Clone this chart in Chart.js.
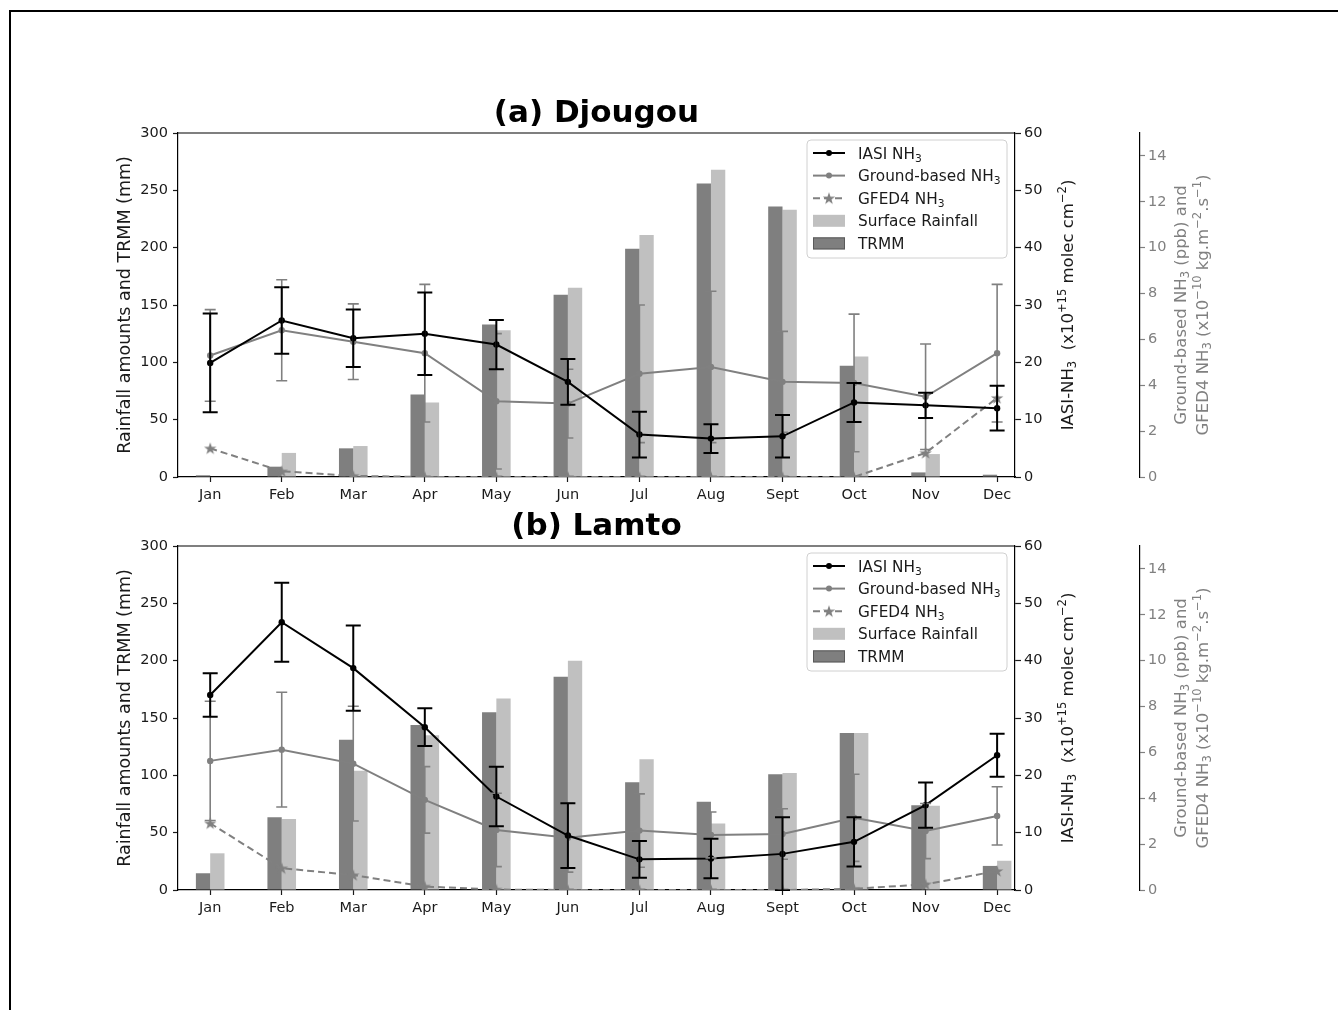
<!DOCTYPE html>
<html>
<head>
<meta charset="utf-8">
<script src="https://cdn.jsdelivr.net/npm/chart.js@4.4.0/dist/chart.umd.min.js"></script>
<style>
  body { margin: 0; background: #fff; }
  #page { position: relative; width: 1338px; height: 1010px; background: #fff; overflow: hidden; }
  #frame { position: absolute; left: 9px; top: 10px; width: 1400px; height: 1100px; border-left: 2px solid #000; border-top: 2px solid #000; }
  canvas { position: absolute; left: 0; }
</style>
</head>
<body>
<div id="page">
  <div id="frame"></div>
  <canvas id="djougou" width="1338" height="430" style="top:80px"></canvas>
  <canvas id="lamto" width="1338" height="440" style="top:493px"></canvas>
</div>
<script>
var months = ['Jan', 'Feb', 'Mar', 'Apr', 'May', 'Jun', 'Jul', 'Aug', 'Sept', 'Oct', 'Nov', 'Dec'];
var rainTicks = [0, 50, 100, 150, 200, 250, 300];
var iasiTicks = [0, 10, 20, 30, 40, 50, 60];
var nh3Ticks = [0, 2, 4, 6, 8, 10, 12, 14];

// (a) Djougou
var djTrmm = [1.5, 9, 25, 72, 133, 159, 199, 256, 236, 97, 4, 2];
var djRain = [0, 21, 27, 65, 128, 165, 211, 268, 233, 105, 20, 0];
var djIasi = [19.9, 27.3, 24.2, 25.0, 23.1, 16.6, 7.4, 6.7, 7.1, 13.0, 12.5, 12.0];
var djIasiErr = [8.6, 5.8, 5.0, 7.2, 4.3, 4.0, 4.0, 2.5, 3.7, 3.4, 2.2, 3.9];
var djGround = [5.3, 6.4, 5.9, 5.4, 3.3, 3.2, 4.5, 4.8, 4.15, 4.1, 3.5, 5.4];
var djGroundErr = [2.0, 2.2, 1.65, 3.0, 2.95, 1.5, 3.0, 3.3, 2.2, 3.0, 2.3, 3.0];
var djGfed = [1.25, 0.25, 0.05, 0, 0, 0, 0, 0, 0, 0, 1.05, 3.45];

// (b) Lamto
var lmTrmm = [14.6, 63.4, 131, 144, 155, 186, 94, 77, 101, 137, 74, 21];
var lmRain = [32, 62, 104, 135, 167, 200, 114, 58, 102, 137, 73.5, 25.5];
var lmIasi = [34.0, 46.7, 38.7, 28.4, 16.3, 9.5, 5.35, 5.5, 6.3, 8.4, 14.8, 23.5];
var lmIasiErr = [3.8, 6.9, 7.45, 3.3, 5.2, 5.65, 3.2, 3.45, 6.4, 4.3, 3.95, 3.75];
var lmGround = [5.63, 6.12, 5.51, 3.93, 2.62, 2.28, 2.59, 2.4, 2.44, 3.15, 2.57, 3.23];
var lmGroundErr = [2.6, 2.5, 2.5, 1.45, 1.6, 1.5, 1.6, 1.0, 1.1, 1.9, 1.2, 1.27];
var lmGfed = [2.91, 0.95, 0.65, 0.15, 0.02, 0, 0, 0, 0, 0.05, 0.25, 0.83];

var FONT = 'DejaVu Sans';
var GREY = '#808080';
var INK = '#1a1a1a';

function pts(vals) {
    return vals.map(function (v, i) { return {x: i, y: v}; });
}

// filled 5 point star, like matplotlib '*'
var star = document.createElement('canvas');
star.width = 14;
star.height = 14;
(function () {
    var c = star.getContext('2d');
    c.fillStyle = GREY;
    c.beginPath();
    for (var k = 0; k < 10; k++) {
        var r = k % 2 ? 2.6 : 6.5;
        var ang = -Math.PI / 2 + k * Math.PI / 5;
        c.lineTo(7 + r * Math.cos(ang), 7.5 + r * Math.sin(ang));
    }
    c.closePath();
    c.fill();
})();

// text with sub/superscripts: segs = [[text, ''|'sub'|'sup'], ...]
function richWidth(ctx, segs, size) {
    var w = 0;
    segs.forEach(function (s) {
        ctx.font = (s[1] ? size * 0.7 : size) + 'px ' + FONT;
        w += ctx.measureText(s[0]).width;
    });
    return w;
}

function drawRich(ctx, segs, x, y, size) {
    ctx.textAlign = 'left';
    ctx.textBaseline = 'alphabetic';
    segs.forEach(function (s) {
        var fs = s[1] ? size * 0.7 : size;
        var dy = s[1] === 'sub' ? size * 0.2 : (s[1] === 'sup' ? -size * 0.42 : 0);
        ctx.font = fs + 'px ' + FONT;
        ctx.fillText(s[0], x, y + dy);
        x += ctx.measureText(s[0]).width;
    });
}

function vText(ctx, segs, cx, cy, size, color) {
    ctx.save();
    ctx.translate(cx, cy);
    ctx.rotate(-Math.PI / 2);
    ctx.fillStyle = color;
    drawRich(ctx, segs, -richWidth(ctx, segs, size) / 2, size * 0.36, size);
    ctx.restore();
}

var rainTitle = [['Rainfall amounts and TRMM (mm)', '']];
var iasiTitle = [['IASI-NH', ''], ['3', 'sub'], ['  (x10', ''], ['+15', 'sup'], [' molec cm', ''], ['\u22122', 'sup'], [')', '']];
var nh3Title1 = [['Ground-based NH', ''], ['3', 'sub'], [' (ppb) and', '']];
var nh3Title2 = [['GFED4 NH', ''], ['3', 'sub'], [' (x10', ''], ['\u221210', 'sup'], [' kg.m', ''], ['\u22122', 'sup'], ['.s', ''], ['\u22121', 'sup'], [')', '']];

var legendItems = [
    {segs: [['IASI NH', ''], ['3', 'sub']], kind: 'line', color: '#000', marker: 'circle'},
    {segs: [['Ground-based NH', ''], ['3', 'sub']], kind: 'line', color: GREY, marker: 'circle'},
    {segs: [['GFED4 NH', ''], ['3', 'sub']], kind: 'line', color: GREY, marker: 'star', dash: [7, 4]},
    {segs: [['Surface Rainfall', '']], kind: 'patch', color: '#c0c0c0'},
    {segs: [['TRMM', '']], kind: 'patch', color: '#7f7f7f', edge: '#5a5a5a'}
];

var decor = {
    id: 'decor',
    afterDatasetsDraw: function (chart) {
        var o = chart.options.plugins.decor, ctx = chart.ctx, a = chart.chartArea;
        ctx.save();
        ctx.beginPath();
        ctx.rect(a.left, a.top, a.right - a.left, a.bottom - a.top + 1);
        ctx.clip();
        o.errorBars.forEach(function (eb) {
            var meta = chart.getDatasetMeta(eb.dataset);
            var scale = chart.scales[meta.yAxisID];
            var vals = chart.data.datasets[eb.dataset].data;
            ctx.strokeStyle = eb.color;
            ctx.lineWidth = eb.width;
            meta.data.forEach(function (pt, i) {
                var v = vals[i].y, e = eb.err[i];
                var top = scale.getPixelForValue(v + e), bot = scale.getPixelForValue(v - e);
                ctx.beginPath();
                ctx.moveTo(pt.x, top);
                ctx.lineTo(pt.x, bot);
                ctx.moveTo(pt.x - eb.cap, top);
                ctx.lineTo(pt.x + eb.cap, top);
                ctx.moveTo(pt.x - eb.cap, bot);
                ctx.lineTo(pt.x + eb.cap, bot);
                ctx.stroke();
            });
        });
        ctx.restore();
    },
    afterDraw: function (chart) {
        var o = chart.options.plugins.decor, ctx = chart.ctx, a = chart.chartArea;
        var mid = (a.top + a.bottom) / 2;
        ctx.save();
        // top spine
        ctx.strokeStyle = '#000';
        ctx.lineWidth = 1.2;
        ctx.beginPath();
        ctx.moveTo(a.left, a.top);
        ctx.lineTo(a.right, a.top);
        ctx.stroke();

        ctx.fillStyle = '#000';
        ctx.font = 'bold 31px ' + FONT;
        ctx.textAlign = 'center';
        ctx.textBaseline = 'alphabetic';
        ctx.fillText(o.title, (a.left + a.right) / 2, a.top - 11);

        vText(ctx, rainTitle, a.left - 54, mid, 17.5, INK);
        vText(ctx, iasiTitle, a.right + 52, mid, 16.5, INK);
        vText(ctx, nh3Title1, a.right + 165, mid, 16.5, GREY);
        vText(ctx, nh3Title2, a.right + 187, mid, 16.5, GREY);

        // legend inside the plot, upper right
        var bx = a.right - 208, by = a.top + 7, bw = 200, bh = 118;
        ctx.beginPath();
        ctx.roundRect(bx, by, bw, bh, 4);
        ctx.fillStyle = 'rgba(255,255,255,0.85)';
        ctx.fill();
        ctx.strokeStyle = '#d0d0d0';
        ctx.lineWidth = 1;
        ctx.stroke();
        legendItems.forEach(function (it, k) {
            var y = by + 13 + k * 22.6;
            var x0 = bx + 6, x1 = bx + 38, xc = (x0 + x1) / 2;
            if (it.kind === 'line') {
                ctx.strokeStyle = it.color;
                ctx.lineWidth = 2;
                ctx.setLineDash(it.dash || []);
                ctx.beginPath();
                ctx.moveTo(x0, y);
                ctx.lineTo(x1, y);
                ctx.stroke();
                ctx.setLineDash([]);
                if (it.marker === 'star') {
                    ctx.drawImage(star, xc - 7, y - 7);
                } else {
                    ctx.fillStyle = it.color;
                    ctx.beginPath();
                    ctx.arc(xc, y, 3, 0, Math.PI * 2);
                    ctx.fill();
                }
            } else {
                ctx.fillStyle = it.color;
                ctx.fillRect(x0, y - 6, x1 - x0, 12);
                if (it.edge) {
                    ctx.strokeStyle = it.edge;
                    ctx.lineWidth = 1;
                    ctx.strokeRect(x0 + 0.5, y - 5.5, x1 - x0 - 1, 11);
                }
            }
            ctx.fillStyle = INK;
            drawRich(ctx, it.segs, bx + 51, y + 15.3 * 0.36, 15.3);
        });
        ctx.restore();
    }
};

function fixedTicks(list) {
    return function (s) {
        s.ticks = list.map(function (v) { return {value: v}; });
    };
}

function axis(extra, color, tickLen, pad) {
    var base = {
        grid: {drawOnChartArea: false, drawTicks: true, tickLength: tickLen, tickColor: color, tickWidth: 1.2, offset: false},
        border: {display: true, color: '#000', width: 1.2},
        ticks: {color: color, padding: pad, autoSkip: false, maxRotation: 0, font: {family: FONT, size: 14.5}}
    };
    return Object.assign(base, extra);
}

window.grafico = function (canvasId, p) {
    var ctx = document.getElementById(canvasId);
    var xAxis = axis({
        type: 'linear', min: -0.45, max: 11.25, offset: false,
        afterBuildTicks: fixedTicks(months.map(function (m, i) { return i; })),
        afterFit: function (s) { s.height = p.xHeight; }
    }, INK, 5, 5);
    xAxis.ticks.callback = function (v) { return months[v]; };

    new Chart(ctx, {
        type: 'bar',
        data: {
            datasets: [{
                type: 'line', label: 'IASI NH3', data: pts(p.iasi), yAxisID: 'y1', order: 0,
                borderColor: '#000', borderWidth: 2, pointRadius: 3.2,
                pointBackgroundColor: '#000', pointBorderWidth: 0
            }, {
                type: 'line', label: 'Ground-based NH3', data: pts(p.ground), yAxisID: 'y2', order: 1,
                borderColor: GREY, borderWidth: 2, pointRadius: 3.2,
                pointBackgroundColor: GREY, pointBorderWidth: 0
            }, {
                type: 'line', label: 'GFED4 NH3', data: pts(p.gfed), yAxisID: 'y2', order: 2,
                borderColor: GREY, borderWidth: 2, borderDash: [7, 4], pointStyle: star
            }, {
                type: 'bar', label: 'TRMM', data: pts(p.trmm), yAxisID: 'y', order: 3,
                backgroundColor: '#7f7f7f', borderWidth: 0,
                barPercentage: 1, categoryPercentage: 0.4
            }, {
                type: 'bar', label: 'Surface Rainfall', data: pts(p.rain), yAxisID: 'y', order: 4,
                backgroundColor: '#c0c0c0', borderWidth: 0,
                barPercentage: 1, categoryPercentage: 0.4
            }]
        },
        options: {
            responsive: false,
            animation: false,
            events: [],
            layout: {padding: {top: 53, left: 0, right: 0, bottom: 0}},
            scales: {
                x: xAxis,
                y: axis({
                    type: 'linear', position: 'left', min: 0, max: 300,
                    afterBuildTicks: fixedTicks(rainTicks),
                    afterFit: function (s) { s.width = 178; }
                }, INK, 5, 5),
                y1: axis({
                    type: 'linear', position: 'right', min: 0, max: 60, weight: 0,
                    afterBuildTicks: fixedTicks(iasiTicks),
                    afterFit: function (s) { s.width = 125; }
                }, INK, 6, 3),
                y2: axis({
                    type: 'linear', position: 'right', min: 0, max: 15, weight: 1,
                    afterBuildTicks: fixedTicks(nh3Ticks),
                    afterFit: function (s) { s.width = 198; }
                }, GREY, 5, 3)
            },
            plugins: {
                legend: {display: false},
                tooltip: {enabled: false},
                decor: {
                    title: p.title,
                    errorBars: [
                        {dataset: 1, err: p.groundErr, color: GREY, width: 1.6, cap: 5.5},
                        {dataset: 0, err: p.iasiErr, color: '#000', width: 2, cap: 7.5}
                    ]
                }
            }
        },
        plugins: [decor]
    });
};

grafico('djougou', {
    title: '(a) Djougou', xHeight: 33,
    trmm: djTrmm, rain: djRain, iasi: djIasi, iasiErr: djIasiErr,
    ground: djGround, groundErr: djGroundErr, gfed: djGfed
});
grafico('lamto', {
    title: '(b) Lamto', xHeight: 43,
    trmm: lmTrmm, rain: lmRain, iasi: lmIasi, iasiErr: lmIasiErr,
    ground: lmGround, groundErr: lmGroundErr, gfed: lmGfed
});
</script>
</body>
</html>
